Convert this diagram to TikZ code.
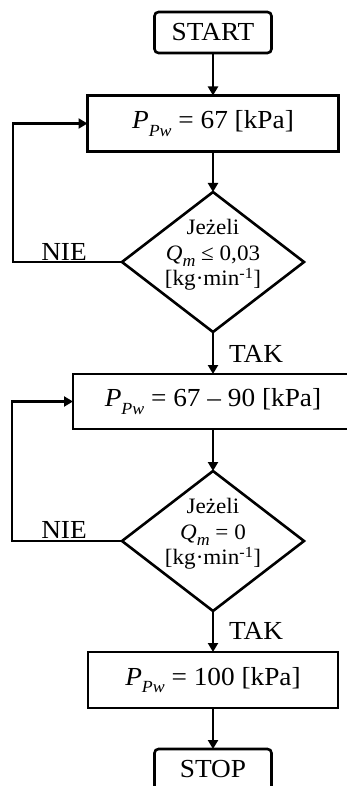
\documentclass[tikz,border=0pt]{standalone}
\usepackage{fontspec}
\setmainfont{Liberation Serif}[FakeStretch=1.05]
\usetikzlibrary{shapes.geometric,arrows.meta}

% italic subscript used in P_{Pw} and Q_m
\newcommand\psub[1]{\raisebox{-0.28em}{\fontsize{17}{17}\selectfont\itshape #1}}

\begin{document}
\begin{tikzpicture}[x=1pt,y=-1pt,
  line width=2.6pt,
  every node/.style={inner sep=0pt, outer sep=0pt},
  term/.style={draw, rounded corners=4pt, minimum width=117pt, minimum height=41pt,
    font=\fontsize{26}{29}\selectfont},
  proc/.style={draw, minimum height=56pt, font=\fontsize{26}{29}\selectfont},
  cond/.style={draw, diamond, minimum width=182pt, minimum height=140pt},
  condtxt/.style={align=center, font=\fontsize{22}{25.5}\selectfont},
  lbl/.style={font=\fontsize{26}{29}\selectfont},
  flow/.style={-{Triangle[length=9pt,width=10pt]}},
]
\path[use as bounding box] (0,0) rectangle (347,786);
\clip (0,0) rectangle (347,786);

% terminals and process boxes
\node[term] (start) at (213,32.5) {START};
\node[proc, minimum width=251pt] (b1) at (213,123.5) {\textit{P}\psub{Pw} = 67 [kPa]};
\node[proc, minimum width=280pt, minimum height=55pt] (b2) at (213,401.5) {\textit{P}\psub{Pw} = 67 – 90 [kPa]};
\node[proc, minimum width=250pt] (b3) at (213,680) {\textit{P}\psub{Pw} = 100 [kPa]};
\node[term] (stop) at (213,769.5) {STOP};

% decisions
\node[cond] (d1) at (213,262) {};
\node[condtxt] (t1) at (213,255) {Jeżeli\\\textit{Q}\psub{m} ≤ 0,03\\{[}kg·min\textsuperscript{-1}{]}};
\node[cond] (d2) at (213,541) {};
\node[condtxt] (t2) at (213,534) {Jeżeli\\\textit{Q}\psub{m} = 0\\{[}kg·min\textsuperscript{-1}{]}};

% branch labels
\node[lbl] (nie1) at (64,252) {NIE};
\node[lbl] (tak1) at (256,354) {TAK};
\node[lbl] (nie2) at (64,530) {NIE};
\node[lbl] (tak2) at (256,631) {TAK};

% main flow
\draw[flow] (start.south) -- (b1.north);
\draw[flow] (b1.south) -- (d1.north);
\draw[flow] (d1.south) -- (b2.north);
\draw[flow] (b2.south) -- (d2.north);
\draw[flow] (d2.south) -- (b3.north);
\draw[flow] (b3.south) -- (stop.north);

% feedback loops
\coordinate (k1) at (13,262);
\coordinate (k2) at (12,541);
\draw[flow] (d1.west) -- (k1) |- (b1.west);
\draw[flow] (d2.west) -- (k2) |- (b2.west);
\end{tikzpicture}
\end{document}
